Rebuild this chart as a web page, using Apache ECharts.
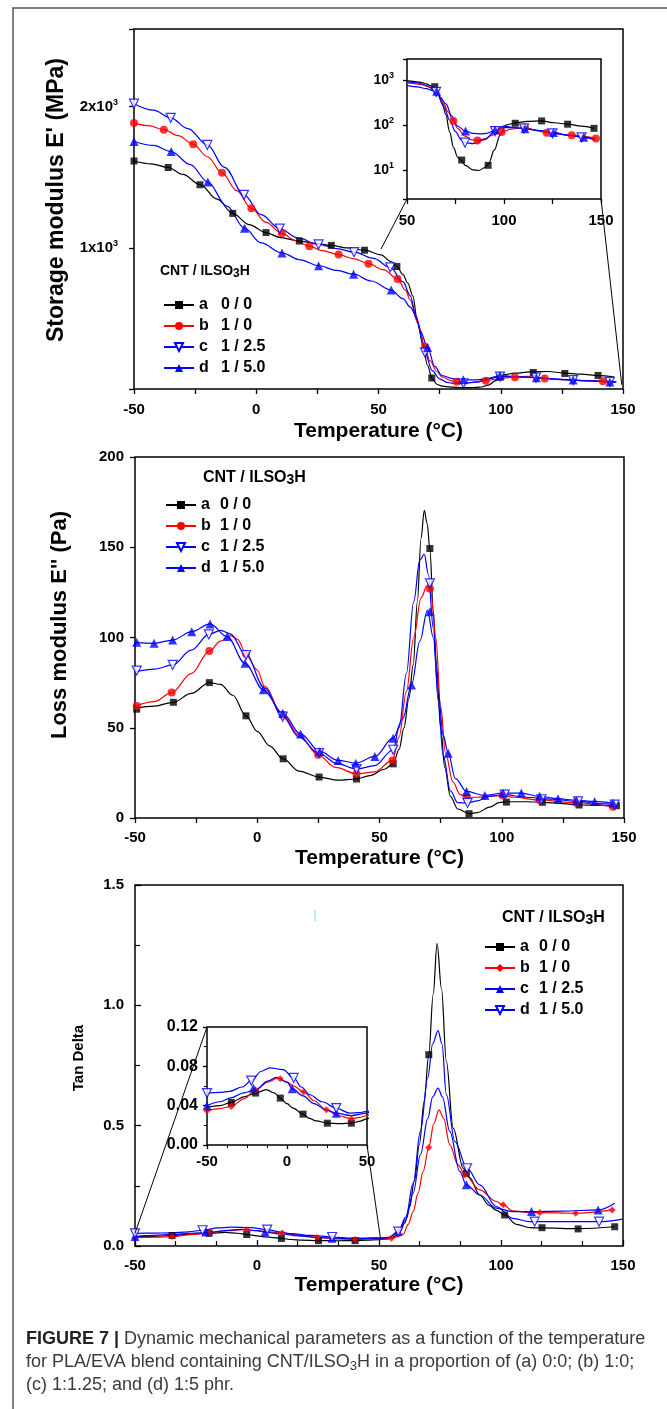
<!DOCTYPE html>
<html>
<head>
<meta charset="utf-8">
<script src="https://cdn.jsdelivr.net/npm/echarts@6/dist/echarts.min.js"></script>
<style>
html, body { margin: 0; padding: 0; background: #fff; }
#main { width: 667px; height: 1409px; }
</style>
</head>
<body>
<div id="main"></div>
<script>
// ---- storage modulus E' (MPa), curves [T, E'] ----
var E1_a = [[-50,1615],[-43,1595],[-36,1569],[-30,1520],[-23,1447],[-16,1345],[-9.6,1244],[-3,1165],[4,1108],[10,1072],[17.6,1048],[24,1032],[30.7,1017],[37,1000],[44.3,983],[51,950],[55,905],[57.5,868],[60,810],[62,750],[64,660],[66,470],[68,330],[70,170],[72,70],[74,32],[76,20],[78,16.5],[80,13],[84,10.3],[87,10],[90,11.5],[92,14],[95,28],[98,60],[101,100],[105.8,112],[112,121],[119.4,124],[126,113],[132.8,105],[140,95],[146.4,85]];
var E1_b = [[-50,1885],[-44,1865],[-37.8,1837],[-32,1795],[-25.8,1734],[-20,1645],[-14,1531],[-8,1405],[-2,1280],[4,1180],[10.5,1103],[16,1052],[21.7,1012],[27,980],[33.7,952],[40,922],[45.9,888],[52,845],[57.8,780],[61,700],[63,630],[66,470],[69,299],[71,200],[73.9,124],[76,85],[80,57],[83,48],[86.3,46],[90,50],[94,60],[98.8,71],[104,82],[110.8,89],[117,76],[122,68],[134.9,60],[147.4,51]];
var E1_c = [[-50,2021],[-42,1975],[-35,1921],[-28,1845],[-20,1729],[-13,1570],[-5,1375],[2,1235],[9.6,1136],[17,1070],[25.5,1024],[33,995],[40,969],[48,925],[54.8,861],[60,760],[63,660],[65.5,500],[69,258],[72,130],[75,72],[78,47],[79.9,41],[84,39],[90,48],[95.4,74],[99.6,88],[104,88],[110.3,85],[118,76],[125,66],[133,60],[140,54],[147,49]];
var E1_d = [[-50,1753],[-42,1725],[-34.8,1682],[-27,1590],[-19.8,1466],[-12,1295],[-4.8,1139],[2,1035],[10.5,964],[18,915],[25.5,873],[33,840],[39.8,813],[47,765],[55.2,701],[60,640],[63,580],[65.3,520],[67,414],[70.1,294],[73,160],[76,95],[80.2,74],[84,66],[88,64],[91,66],[95.4,78],[99.6,95],[104,90],[110.8,83],[118,76],[125.5,69],[133,60],[141,54],[147,47]];
// markers, main panel
var M1_a = [[-50,1615],[-36,1569],[-23,1447],[-9.6,1244],[4,1108],[17.6,1048],[30.7,1017],[44.3,983],[57.5,868],[71.8,78],[99.7,83],[113.3,117],[126.2,110],[139.8,96]];
var M1_b = [[-50,1885],[-37.8,1837],[-25.8,1734],[-14,1531],[-2,1280],[10.5,1103],[21.7,1012],[33.7,952],[45.9,888],[57.8,780],[69,299],[82,52],[93.9,59],[105.8,84],[118,74],[141.8,55]];
var M1_c = [[-50,2021],[-35,1921],[-20,1729],[-5,1375],[9.6,1136],[25.5,1024],[40,969],[54.8,861],[69,258],[84.7,40],[99.7,88],[114.4,80],[129.6,63],[144.6,51]];
var M1_d = [[-50,1753],[-34.8,1682],[-19.8,1466],[-4.8,1139],[10.5,964],[25.5,873],[39.8,813],[55.2,701],[70.1,294],[84.7,65],[99.7,95],[114.6,80],[129.6,64],[144.6,50]];
// markers, log inset
var I1_a = [[64.3,705],[78.2,17],[91.8,13],[105.8,110],[119.4,124],[132.8,105],[146.4,85]];
var I1_b = [[73.9,124],[86.3,46],[98.8,71],[110.8,89],[122,68],[134.9,60],[147.4,51]];
var I1_c = [[65,540],[79.9,41],[95.4,74],[110.3,85],[125,66],[140,54]];
var I1_d = [[65.3,560],[80.2,74],[95.4,78],[110.8,83],[125.5,69],[141,54]];

// ---- loss modulus E'' (Pa) ----
var E2_a = [[-50,60.8],[-42,62],[-34.3,64.1],[-27,69],[-19.6,75],[-15,74],[-10,68],[-4.6,56.6],[0,48],[5,40],[10.6,32.8],[17,26],[25.3,22.7],[33,21],[40.6,21.6],[46,23.5],[52,27],[55.6,30],[58,38],[60,50],[62,66],[63.8,85],[65.5,120],[67,155],[68.3,170.5],[69.5,163],[70.6,149],[72,115],[73.3,85],[75,50],[76.7,28],[79,12],[82,5],[86.6,2.4],[90,3],[95,6],[99,8.5],[101.9,9],[110,9],[116.6,8.7],[125,8],[131.6,7.2],[140,7],[146.9,6.8]];
var E2_b = [[-50,62],[-42,64.5],[-35,69.5],[-27,80],[-19.6,92.5],[-15,98],[-11,101],[-8,99],[-5,92],[0,82],[3,73],[10,58],[17,46],[24.9,35],[32,28],[40.6,24.5],[48,25.5],[55.3,31.9],[58,45],[61,70],[64,100],[67,122],[69.6,129],[71,125],[73,100],[75,62],[77,36],[80,20],[83,13],[86,11.5],[90,11.5],[95,12],[100,12.5],[105,11.5],[115,10],[130,8.5],[146,6]];
var E2_c = [[-50,81],[-42,82.5],[-34.6,84.8],[-27,93],[-19.8,101.7],[-15,104],[-11,102],[-4.6,90.3],[3,72],[10.4,56.2],[17,45],[25,36],[33,30],[40.6,27.1],[48,29],[55.6,37.8],[58,50],[61,80],[64,120],[66.5,143],[68.3,146],[70,135],[72,105],[74,65],[76,35],[79,15],[82,8.5],[86,8.3],[90,9.5],[95,12],[101.2,12.9],[110,11.5],[120,10.5],[131.2,9.2],[140,8],[146.2,7.4]];
var E2_d = [[-50,97.3],[-42.2,96.8],[-34.6,98.6],[-26.8,103.2],[-19.3,107.5],[-12.3,100.5],[-5,85.7],[2.5,71],[10.4,58],[17.7,46.6],[25.6,36.9],[33.1,31.9],[40.3,30.4],[48.1,34.1],[55.6,44.2],[59.5,55],[63.1,73.7],[66.5,98],[69.6,115],[72,100],[74,70],[76,46],[78.1,35.9],[81,22],[85.6,14.7],[93.1,12.5],[100.5,13.8],[108,13.8],[115.5,12],[123,10.7],[130.5,9.8],[138,9.2],[145.5,8.3]];
var M2_a = [[-49.3,60.3],[-34.3,64.1],[-19.6,75],[-4.6,56.6],[10.6,32.8],[25.3,22.7],[40.6,21.6],[55.6,30],[70.6,149.3],[86.6,2.4],[101.9,8.8],[116.6,8.7],[131.6,7.2],[146.9,6.8]];
var M2_b = [[-49.3,62],[-35,69.5],[-19.6,92.5],[-4.6,91],[10.4,57],[24.9,35],[40.6,24.5],[55.3,31.9],[70.6,127],[85.6,11.5],[100.5,12.5],[115.5,10],[130.5,8.5],[145.5,6.2]];
var M2_c = [[-49.3,81.7],[-34.6,84.8],[-19.8,101.7],[-4.6,90.3],[10.4,56.2],[25.3,36],[40.6,27.1],[55.6,37.8],[70.6,130],[86,8.3],[101.2,12.9],[116.2,10.4],[131.2,9.2],[146.2,7.4]];
var M2_d = [[-49.3,97.3],[-42.2,96.8],[-34.6,98.6],[-26.8,103.2],[-19.3,107.5],[-12.3,100.5],[-5,85.7],[2.5,71],[10.4,58],[17.7,46.6],[25.6,36.9],[33.1,31.9],[40.3,30.4],[48.1,34.1],[55.6,44.2],[63.1,73.7],[70.6,114.3],[78.1,35.9],[85.6,14.7],[93.1,12.5],[100.5,13.8],[108,13.8],[115.5,12],[123,10.7],[130.5,9.8],[138,9.2],[145.5,8.3]];

// ---- tan delta ----
var E3_a = [[-50,0.0382],[-42,0.040],[-34.8,0.0433],[-27,0.049],[-19.6,0.0528],[-12.9,0.0563],[-8,0.053],[-4.2,0.0477],[0,0.042],[3.75,0.0375],[10,0.0314],[14,0.027],[18.3,0.0245],[25.2,0.0222],[33,0.0218],[40.2,0.0222],[45,0.024],[50,0.0266],[54,0.03],[56.5,0.04],[58.5,0.06],[60.5,0.095],[62.5,0.16],[64.5,0.27],[66.5,0.42],[68.5,0.6],[70.4,0.795],[72.2,1.045],[73.8,1.256],[75.6,1.07],[77.6,0.767],[80.4,0.49],[84.5,0.323],[87,0.285],[91.3,0.212],[95,0.17],[98.1,0.148],[101.5,0.129],[106.3,0.09],[111.8,0.076],[116.8,0.075],[131.6,0.072],[146.6,0.080]];
var E3_b = [[-50,0.0348],[-42,0.037],[-34.8,0.0392],[-27,0.047],[-19.6,0.0559],[-12,0.064],[-5.6,0.0682],[0,0.064],[4,0.060],[10.4,0.0539],[17,0.045],[24.6,0.0358],[32,0.030],[40.2,0.0266],[45,0.028],[50,0.030],[55,0.032],[58,0.04],[60,0.05],[62,0.09],[64,0.143],[66,0.22],[68.1,0.31],[70.4,0.409],[72.5,0.51],[74.6,0.566],[76.5,0.53],[79,0.42],[82.4,0.337],[85.2,0.296],[91.3,0.233],[98.1,0.185],[100.9,0.171],[104.8,0.146],[111.8,0.139],[115.9,0.139],[130.6,0.136],[145.6,0.15]];
var E3_c = [[-50,0.0399],[-42,0.044],[-35,0.048],[-27,0.053],[-19.6,0.0563],[-12,0.065],[-6.7,0.0689],[0,0.064],[3.3,0.0573],[10,0.050],[17,0.042],[24,0.036],[30.8,0.0324],[40,0.030],[50,0.0324],[54,0.035],[57.9,0.06],[61,0.11],[64,0.22],[67,0.38],[70,0.53],[72,0.62],[74.2,0.656],[76,0.62],[79,0.476],[83.1,0.31],[85.8,0.254],[91.3,0.212],[98.1,0.157],[104.8,0.143],[112.5,0.143],[125,0.145],[139.8,0.150],[146.6,0.178]];
var E3_d = [[-50,0.0528],[-42,0.0535],[-35.8,0.0546],[-28,0.059],[-22.3,0.0655],[-16,0.075],[-10.8,0.0784],[-2.5,0.0767],[4.2,0.0682],[9,0.059],[14.2,0.0511],[22,0.044],[30.8,0.0375],[39.2,0.0324],[45,0.033],[50,0.0341],[54,0.036],[57.9,0.06],[61,0.12],[64,0.26],[67,0.48],[70,0.70],[72,0.84],[74.2,0.895],[75.8,0.84],[77.6,0.63],[81.1,0.434],[86.1,0.323],[91.3,0.254],[98.1,0.164],[104.8,0.115],[111.8,0.101],[113.8,0.101],[140.2,0.101],[149.7,0.112]];
var M3_a = [[-34.8,0.0433],[-19.6,0.0528],[-4.2,0.0477],[10,0.0314],[25.2,0.0222],[40.2,0.0222],[70.4,0.795],[85.8,0.302],[101.5,0.129],[116.8,0.076],[131.6,0.071],[146.6,0.080]];
var M3_b = [[-50,0.0348],[-34.8,0.0392],[-19.6,0.0559],[-4.2,0.0675],[10.4,0.0539],[24.6,0.0358],[40.2,0.0266],[55.1,0.032],[70.4,0.409],[85.2,0.296],[100.9,0.171],[115.9,0.139],[130.6,0.136],[145.6,0.15]];
var M3_c = [[-50,0.0399],[-21,0.058],[3.3,0.0573],[30.8,0.0324],[57.9,0.06],[85.8,0.254],[112.5,0.143],[139.8,0.150]];
var M3_d = [[-50,0.0528],[-22.3,0.0655],[4.2,0.0682],[30.8,0.0375],[57.9,0.06],[86.1,0.323],[113.8,0.101],[140.2,0.101]];

var legendText = ['0 / 0', '1 / 0', '1 / 2.5', '1 / 5.0'];
var legendKeys = ['a', 'b', 'c', 'd'];

var FN = '"Liberation Sans Narrow","Liberation Sans",Arial,sans-serif';
var FW = '"Liberation Sans",Arial,sans-serif';
var BLACK = '#000', RED = '#ff0000', BLUE = '#0000ff';

var SQ = {symbol: 'rect', size: 7, item: {color: BLACK}, leg: 'rect'};
var CI = {symbol: 'circle', size: 8, item: {color: RED}, leg: 'circle'};
var DI = {symbol: 'diamond', size: 7, item: {color: RED}, leg: 'diamond'};
var TD = {symbol: 'triangle', size: 9, rotate: 180, item: {color: '#fff', borderColor: BLUE, borderWidth: 1.2}, leg: 'emptyTriangle'};
var TU = {symbol: 'triangle', size: 9, item: {color: BLUE}, leg: 'triangle'};

function lineS(grid, name, data, color, mk) {
  return {
    type: 'line', name: name, xAxisIndex: grid, yAxisIndex: grid, data: data,
    smooth: 0.35, smoothMonotone: 'x', showSymbol: false,
    symbol: mk.leg, symbolRotate: mk.rotate || 0,
    lineStyle: {color: color, width: 1.2}, itemStyle: {color: color},
    emphasis: {disabled: true}, silent: true, z: 2
  };
}
function markS(grid, data, mk) {
  return {
    type: 'scatter', xAxisIndex: grid, yAxisIndex: grid, data: data,
    symbol: mk.symbol, symbolSize: mk.size, symbolRotate: mk.rotate || 0,
    itemStyle: mk.item, silent: true, z: 3
  };
}

var tickLab = {fontFamily: FN, fontWeight: 'bold', fontSize: 15, color: '#000'};
function lab(margin, fmt, extra) {
  return Object.assign({margin: margin, formatter: fmt}, tickLab, extra || {});
}
var tick = function (len, inside) { return {length: len, inside: !!inside, lineStyle: {color: '#000', width: 1.3}}; };
var noLine = {show: false, onZero: false};
var xTitle = {fontFamily: FW, fontWeight: 'bold', fontSize: 21, color: '#000'};
var every50 = function (v) { return v % 50 === 0 ? String(v) : ''; };

var grids = [
  {left: 134, top: 29, width: 489, height: 360},
  {left: 407, top: 59, width: 194, height: 140},
  {left: 135, top: 457, width: 489, height: 361},
  {left: 135, top: 885, width: 488, height: 361},
  {left: 207, top: 1027, width: 160, height: 118}
].map(function (g) {
  return Object.assign({show: true, borderColor: '#000', borderWidth: 1.5, backgroundColor: '#fff'}, g);
});

var xAxes = [
  {gridIndex: 0, type: 'value', min: -50, max: 150, interval: 25, axisLine: noLine, splitLine: {show: false},
   axisTick: tick(5), axisLabel: lab(13, every50),
   name: 'Temperature (°C)', nameLocation: 'middle', nameGap: 32, nameTextStyle: xTitle},
  {gridIndex: 1, type: 'value', min: 50, max: 150, interval: 25, axisLine: noLine, splitLine: {show: false},
   axisTick: tick(5), axisLabel: lab(14, every50)},
  {gridIndex: 2, type: 'value', min: -50, max: 150, interval: 25, axisLine: noLine, splitLine: {show: false},
   axisTick: tick(5), axisLabel: lab(12, every50),
   name: 'Temperature (°C)', nameLocation: 'middle', nameGap: 30, nameTextStyle: xTitle},
  {gridIndex: 3, type: 'value', min: -50, max: 150, interval: 50, axisLine: noLine, splitLine: {show: false},
   axisTick: tick(6, true), minorTick: {show: true, splitNumber: 3, length: 5, lineStyle: {color: '#000', width: 1.2}},
   axisLabel: lab(12, function (v) { return String(v); }),
   name: 'Temperature (°C)', nameLocation: 'middle', nameGap: 29, nameTextStyle: xTitle},
  {gridIndex: 4, type: 'value', min: -50, max: 50, interval: 50, axisLine: noLine, splitLine: {show: false},
   axisTick: tick(4), minorTick: {show: true, splitNumber: 4, length: 3, lineStyle: {color: '#000', width: 1}},
   axisLabel: lab(9, function (v) { return String(v); }, {fontSize: 15})}
];

var sup = {fontFamily: FN, fontWeight: 'bold', fontSize: 9, verticalAlign: 'top', lineHeight: 9, color: '#000'};
var yAxes = [
  {gridIndex: 0, type: 'value', min: 0, max: 2550, interval: 1000, axisLine: noLine, splitLine: {show: false},
   axisTick: tick(5),
   axisLabel: lab(16, function (v) { return (v === 1000 || v === 2000) ? (v / 1000) + 'x10{s|3}' : ''; },
     {fontSize: 15, lineHeight: 18, rich: {s: sup}})},
  {gridIndex: 1, type: 'log', logBase: 10, min: 2.35, max: 2880, axisLine: noLine, splitLine: {show: false},
   axisTick: tick(4),
   axisLabel: lab(13, function (v) {
     var e = Math.log10(v), r = Math.round(e);
     return Math.abs(e - r) < 1e-6 ? '10{s|' + r + '}' : '';
   }, {fontSize: 14, lineHeight: 18, rich: {s: sup}})},
  {gridIndex: 2, type: 'value', min: 0, max: 200, interval: 50, axisLine: noLine, splitLine: {show: false},
   axisTick: tick(5), axisLabel: lab(11, function (v) { return String(v); })},
  {gridIndex: 3, type: 'value', min: 0, max: 1.5, interval: 0.5, axisLine: noLine, splitLine: {show: false},
   axisTick: tick(6, true), minorTick: {show: true, splitNumber: 2, length: 5, lineStyle: {color: '#000', width: 1.2}},
   axisLabel: lab(11, function (v) { return v.toFixed(1); })},
  {gridIndex: 4, type: 'value', min: 0, max: 0.12, interval: 0.04, axisLine: noLine, splitLine: {show: false},
   axisTick: tick(4), minorTick: {show: true, splitNumber: 2, length: 3, lineStyle: {color: '#000', width: 1}},
   axisLabel: lab(9, function (v) { return v.toFixed(2); }, {fontSize: 16})}
];

var series = [];
function addPanel(grid, curves, marks, styles, names) {
  curves.forEach(function (c, i) {
    var col = [BLACK, RED, BLUE, BLUE][i];
    series.push(lineS(grid, names ? names[i] : undefined, c, col, styles[i]));
  });
  marks.forEach(function (m, i) { series.push(markS(grid, m, styles[i])); });
}
var st12 = [SQ, CI, TD, TU];
var st3 = [SQ, DI, TU, TD];
addPanel(0, [E1_a, E1_b, E1_c, E1_d], [M1_a, M1_b, M1_c, M1_d], st12, ['p1a', 'p1b', 'p1c', 'p1d']);
addPanel(1, [E1_a, E1_b, E1_c, E1_d], [I1_a, I1_b, I1_c, I1_d], st12);
addPanel(2, [E2_a, E2_b, E2_c, E2_d], [M2_a, M2_b, M2_c, M2_d], st12, ['p2a', 'p2b', 'p2c', 'p2d']);
addPanel(3, [E3_a, E3_b, E3_c, E3_d], [M3_a, M3_b, M3_c, M3_d], st3, ['p3a', 'p3b', 'p3c', 'p3d']);
addPanel(4, [E3_a, E3_b, E3_c, E3_d], [M3_a, M3_b, M3_c, M3_d], st3);

function legendOf(p, left, top, letterW, fs) {
  return {
    data: legendKeys.map(function (k) { return p + k; }),
    orient: 'vertical', left: left, top: top, padding: 0, itemWidth: 30, itemHeight: 10, itemGap: 5,
    selectedMode: false, inactiveColor: '#000',
    formatter: function (n) {
      var i = legendKeys.indexOf(n.slice(-1));
      return '{l|' + legendKeys[i] + '}{v|' + legendText[i] + '}';
    },
    textStyle: {fontFamily: FN, fontWeight: 'bold', fontSize: fs, color: '#000', lineHeight: 16,
      rich: {l: {width: letterW, fontFamily: FN, fontWeight: 'bold', fontSize: fs},
             v: {fontFamily: FN, fontWeight: 'bold', fontSize: fs}}}
  };
}

function cntTitle(id, x, y, fs) {
  return {type: 'text', id: id, x: x, y: y, z: 10, style: {
    text: 'CNT / ILSO{s|3}H', fontFamily: FN, fontWeight: 'bold', fontSize: fs, fill: '#000',
    lineHeight: 18, verticalAlign: 'middle',
    rich: {s: {fontFamily: FN, fontWeight: 'bold', fontSize: fs - 2, verticalAlign: 'bottom', lineHeight: 10, fill: '#000'}}
  }};
}
function yTitle(id, text, x, y, fs) {
  return {type: 'text', id: id, x: x, y: y, rotation: Math.PI / 2, z: 10, style: {
    text: text, fontFamily: FW, fontWeight: 'bold', fontSize: fs, fill: '#000', align: 'center', verticalAlign: 'middle'
  }};
}
var capRich = {
  b: {fontFamily: FW, fontWeight: 'bold', fontSize: 18, fill: '#222', lineHeight: 22},
  sub: {fontFamily: FW, fontSize: 13, fill: '#3a3a3a', verticalAlign: 'bottom', lineHeight: 12}
};
function capLine(id, text, y) {
  return {type: 'text', id: id, x: 26, y: y, z: 10, style: {
    text: text, fontFamily: FW, fontSize: 18, fill: '#3a3a3a', lineHeight: 22, verticalAlign: 'middle', rich: capRich
  }};
}

var graphics = [
  {type: 'rect', id: 'frame', shape: {x: 13, y: 8, width: 720, height: 1450}, style: {fill: 'none', stroke: '#555', lineWidth: 1.5}, z: 0},
  cntTitle('t1', 160, 271, 14),
  cntTitle('t2', 203, 478, 16),
  cntTitle('t3', 502, 918, 16),
  yTitle('y1', "Storage modulus E' (MPa)", 57, 200, 23),
  yTitle('y2', "Loss modulus E'' (Pa)", 60, 625, 22),
  yTitle('y3', 'Tan Delta', 79, 1058, 15),
  {type: 'line', id: 'spot', shape: {x1: 315, y1: 910, x2: 315, y2: 921}, style: {stroke: '#a8e6ee', lineWidth: 1.5}, z: 10},
  capLine('cap1', '{b|FIGURE 7 |} Dynamic mechanical parameters as a function of the temperature', 1339),
  capLine('cap2', 'for PLA/EVA blend containing CNT/ILSO{sub|3}H in a proportion of (a) 0:0; (b) 1:0;', 1362),
  capLine('cap3', '(c) 1:1.25; and (d) 1:5 phr.', 1385)
];

var chart = echarts.init(document.getElementById('main'));
chart.setOption({
  animation: false,
  backgroundColor: '#fff',
  grid: grids,
  xAxis: xAxes,
  yAxis: yAxes,
  legend: [legendOf('p1', 163, 297, 22, 16), legendOf('p2', 165, 497, 19, 16), legendOf('p3', 484, 939, 19, 16)],
  series: series,
  graphic: graphics
});

// zoom connectors between the insets and their main panels
function px(g, v) { return chart.convertToPixel({gridIndex: g}, v); }
function seg(id, a, b) {
  return {type: 'line', id: id, z: 10, shape: {x1: a[0], y1: a[1], x2: b[0], y2: b[1]}, style: {stroke: '#000', lineWidth: 1}};
}
chart.setOption({graphic: [
  seg('z1', px(1, [50, 2.35]), px(0, [51, 990])),
  seg('z2', px(1, [150, 2.35]), px(0, [149.5, 30])),
  seg('z3', px(4, [-50, 0.12]), px(3, [-50, 0.053])),
  seg('z4', px(4, [50, 0]), px(3, [50.6, 0.032]))
]});
</script>
</body>
</html>
